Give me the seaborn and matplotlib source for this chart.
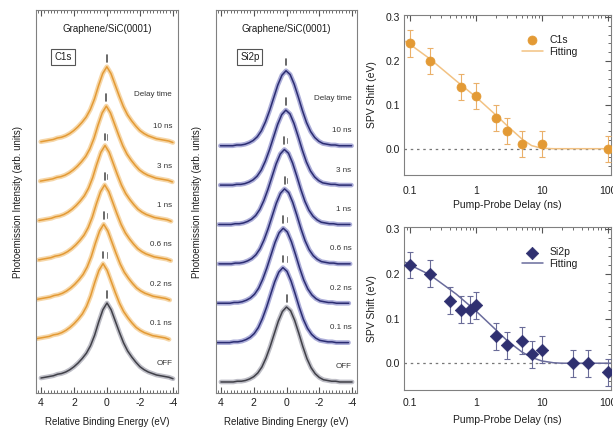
import numpy as np
import pandas as pd
import matplotlib
matplotlib.use("Agg")
import matplotlib.pyplot as plt
from matplotlib.ticker import MultipleLocator, FixedLocator, LogLocator, NullFormatter
import seaborn as sns

# ---------------- data ----------------
energy = [4.0, 3.75, 3.5, 3.25, 3.0, 2.75, 2.5, 2.25, 2.0, 1.75, 1.5, 1.25, 1.0, 0.75, 0.5, 0.25, 0.0,
          -0.25, -0.5, -0.75, -1.0, -1.25, -1.5, -1.75, -2.0, -2.25, -2.5, -2.75, -3.0, -3.25, -3.5, -3.75, -4.0]
c1s_profile = [0.00, 0.01, 0.02, 0.03, 0.05, 0.06, 0.08, 0.11, 0.15, 0.20, 0.26, 0.33, 0.43, 0.57, 0.75, 0.91, 1.00,
               0.91, 0.76, 0.61, 0.47, 0.36, 0.28, 0.21, 0.15, 0.11, 0.08, 0.06, 0.04, 0.03, 0.02, 0.01, -0.01]
si2p_profile = [0.00, 0.00, 0.00, 0.00, 0.01, 0.01, 0.02, 0.04, 0.07, 0.12, 0.20, 0.32, 0.47, 0.64, 0.81, 0.94, 1.00,
                0.95, 0.82, 0.65, 0.47, 0.31, 0.19, 0.11, 0.06, 0.03, 0.02, 0.01, 0.01, 0.00, 0.00, 0.00, 0.00]

delay_labels = ["10 ns", "3 ns", "1 ns", "0.6 ns", "0.2 ns", "0.1 ns", "OFF"]
c1s_shift = [0.01, 0.04, 0.12, 0.14, 0.20, 0.24, 0.0]
si2p_shift = [0.03, 0.04, 0.13, 0.12, 0.20, 0.22, 0.0]

c1s_delay = [0.1, 0.2, 0.6, 1, 2, 3, 5, 10, 100]
c1s_spv = [0.24, 0.20, 0.14, 0.12, 0.07, 0.04, 0.01, 0.01, 0.00]
c1s_err = [0.03, 0.03, 0.03, 0.03, 0.03, 0.03, 0.03, 0.03, 0.03]
c1s_fit_t = [0.08, 0.1, 0.2, 0.5, 1, 2, 3, 5, 7, 10, 15, 100, 120]
c1s_fit_y = [0.247, 0.238, 0.205, 0.155, 0.118, 0.077, 0.052, 0.022, 0.007, 0.001, 0.0, 0.0, 0.0]

si2p_delay = [0.1, 0.2, 0.4, 0.6, 0.8, 1, 2, 3, 5, 7, 10, 30, 50, 100]
si2p_spv = [0.22, 0.20, 0.14, 0.12, 0.12, 0.13, 0.06, 0.04, 0.05, 0.02, 0.03, 0.00, 0.00, -0.02]
si2p_err = [0.03] * 14
si2p_fit_t = [0.08, 0.1, 0.2, 0.5, 1, 2, 3, 5, 7, 10, 15, 20, 100, 120]
si2p_fit_y = [0.228, 0.220, 0.198, 0.155, 0.117, 0.075, 0.050, 0.025, 0.013, 0.005, 0.001, 0.0, 0.0, 0.0]

# ---------------- style ----------------
sns.set_theme(style="white")
plt.rcParams["font.family"] = ["Liberation Sans", "DejaVu Sans"]
plt.rcParams["axes.unicode_minus"] = False
plt.rcParams["text.color"] = "#1e1e1e"
plt.rcParams["axes.labelcolor"] = "#1e1e1e"
plt.rcParams["xtick.color"] = "#333333"
plt.rcParams["ytick.color"] = "#333333"

W, H = 613, 432
fig = plt.figure(figsize=(W / 100, H / 100), dpi=100)
fig.patch.set_facecolor("white")


def box(l, t, r, b):
    return [l / W, 1 - b / H, (r - l) / W, (b - t) / H]


ORANGE = "#e39a35"
ORANGE_L = "#f3c98a"
NAVY = "#2b2d72"
NAVY_L = "#9092cc"
GREY = "#404048"
GREY_L = "#a8a8b4"
SPINE = "#808080"

OFFSET = 0.525


def spectra_panel(rect, profile, shifts, color, color_l, tag, tag_x, ylim, ylabel_x):
    ax = fig.add_axes(rect)
    n = len(delay_labels)
    for i, (lab, sh) in enumerate(zip(delay_labels, shifts)):
        base = (n - 1 - i) * OFFSET
        c, cl = (GREY, GREY_L) if lab == "OFF" else (color, color_l)
        df = pd.DataFrame({"E": np.array(energy) + sh, "I": np.array(profile) + base})
        sns.lineplot(data=df, x="E", y="I", ax=ax, color=cl, lw=3.4, alpha=0.75, sort=False)
        sns.lineplot(data=df, x="E", y="I", ax=ax, color=c, lw=1.1, sort=False)
        peak = base + 1.0
        ax.plot([sh, sh], [peak + 0.07, peak + 0.16], color="#505050", lw=1.2)
        if sh > 0.05:
            ax.plot([0, 0], [peak + 0.08, peak + 0.15], color="#808080", lw=0.7)
        ax.text(-3.95, base + 0.2, lab, ha="right", va="center", fontsize=5.8, color="#333333")
    ax.text(-3.95, (n - 1) * OFFSET + 0.63, "Delay time", ha="right", va="center", fontsize=5.8, color="#333333")
    ax.set_xlim(4.3, -4.3)
    ax.set_ylim(*ylim)
    ax.set_xlabel("Relative Binding Energy (eV)", fontsize=7)
    ax.set_ylabel("Photoemission Intensity (arb. units)", fontsize=7)
    ax.xaxis.set_label_coords(0.5, -0.076)
    ax.yaxis.set_label_coords(ylabel_x, 0.5)
    ax.xaxis.label.set_va("center")
    ax.yaxis.label.set_va("center")
    ax.xaxis.set_major_locator(FixedLocator([4, 2, 0, -2, -4]))
    ax.xaxis.set_minor_locator(MultipleLocator(0.2))
    ax.set_yticks([])
    ax.tick_params(axis="x", which="both", direction="in", top=True, bottom=True, labelsize=7.5, pad=3.5,
                   colors="#555555", labelcolor="#1e1e1e")
    ax.tick_params(axis="x", which="major", length=4, width=0.8)
    ax.tick_params(axis="x", which="minor", length=2, width=0.6)
    for s in ax.spines.values():
        s.set_color(SPINE)
        s.set_linewidth(0.8)
    ax.text(0.5, 0.95, "Graphene/SiC(0001)", transform=ax.transAxes, ha="center", va="center", fontsize=7)
    ax.text(tag_x, 0.877, tag, transform=ax.transAxes, ha="center", va="center", fontsize=7,
            bbox=dict(boxstyle="square,pad=0.3", fc="white", ec="#555555", lw=0.8))
    return ax


spectra_panel(box(36, 10, 178, 393), c1s_profile, c1s_shift, ORANGE, ORANGE_L, "C1s", 0.19,
              (-0.2, 4.907), -0.127)
spectra_panel(box(216, 10, 357, 393), si2p_profile, si2p_shift, NAVY, NAVY_L, "Si2p", 0.24,
              (-0.147, 4.96), -0.135)


def spv_panel(rect, t, y, err, fit_t, fit_y, color, ecolor, fitcolor, marker, msize, name, xlab_y, xpad,
              leg_anchor):
    ax = fig.add_axes(rect)
    ax.axhline(0, color="#777777", lw=0.9, ls=(0, (2, 3)), zorder=1)
    sns.lineplot(x=fit_t, y=fit_y, ax=ax, color=fitcolor, lw=1.1, label="Fitting", zorder=2, sort=False)
    ax.errorbar(t, y, yerr=err, fmt="none", ecolor=ecolor, elinewidth=0.8, capsize=2, capthick=0.8, zorder=3)
    sns.scatterplot(x=t, y=y, ax=ax, color=color, marker=marker, s=msize, edgecolor=color, linewidth=0.5,
                    label=name, zorder=4)
    ax.set_xscale("log")
    ax.set_xlim(0.081, 112)
    ax.set_ylim(-0.06, 0.305)
    ax.set_xticks([0.1, 1, 10, 100])
    ax.set_xticklabels(["0.1", "1", "10", "100"])
    ax.xaxis.set_minor_locator(LogLocator(base=10, subs=np.arange(2, 10), numticks=20))
    ax.xaxis.set_minor_formatter(NullFormatter())
    ax.set_yticks([0.0, 0.1, 0.2, 0.3])
    ax.set_yticklabels(["0.0", "0.1", "0.2", "0.3"])
    ax.yaxis.set_minor_locator(MultipleLocator(0.02))
    ax.tick_params(which="both", direction="in", top=True, right=True, colors="#555555", labelcolor="#1e1e1e")
    ax.tick_params(which="major", length=4, width=0.8, labelsize=7.5)
    ax.tick_params(axis="x", which="major", pad=xpad)
    ax.tick_params(axis="y", which="major", pad=3)
    ax.tick_params(which="minor", length=2, width=0.6)
    for s in ax.spines.values():
        s.set_color(SPINE)
        s.set_linewidth(0.8)
    ax.set_xlabel("Pump-Probe Delay (ns)", fontsize=7.5)
    ax.set_ylabel("SPV Shift (eV)", fontsize=7.5)
    ax.xaxis.set_label_coords(0.5, xlab_y)
    ax.yaxis.set_label_coords(-0.155, 0.5)
    ax.xaxis.label.set_va("center")
    ax.yaxis.label.set_va("center")
    h, l = ax.get_legend_handles_labels()
    order = [l.index(name), l.index("Fitting")]
    ax.legend([h[i] for i in order], [l[i] for i in order], loc="upper left", bbox_to_anchor=leg_anchor,
              frameon=False, fontsize=7.5, handlelength=2.0, handletextpad=0.6, labelspacing=0.15,
              borderaxespad=0)
    return ax


spv_panel(box(404, 15, 611, 175), c1s_delay, c1s_spv, c1s_err, c1s_fit_t, c1s_fit_y,
          ORANGE, "#eab06a", "#f2c283", "o", 42, "C1s", -0.19, 8, (0.55, 0.9))
spv_panel(box(404, 227, 611, 390), si2p_delay, si2p_spv, si2p_err, si2p_fit_t, si2p_fit_y,
          "#2f3070", "#6a6c98", "#6a6c9c", "D", 40, "Si2p", -0.184, 6, (0.55, 0.9))

fig.savefig("out.png", dpi=100)
